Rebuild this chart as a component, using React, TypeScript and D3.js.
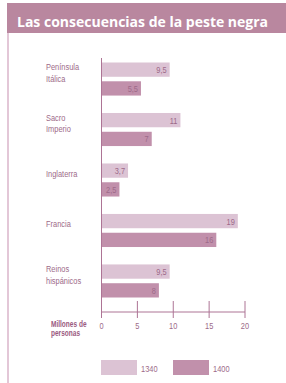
import React, { useEffect } from 'react';
import * as d3 from 'd3';

// categories, split into label lines
const regions = ['Península Itálica', 'Sacro Imperio', 'Inglaterra', 'Francia', 'Reinos hispánicos'];
const regionLines = [['Península', 'Itálica'], ['Sacro', 'Imperio'], ['Inglaterra'], ['Francia'], ['Reinos', 'hispánicos']];
const years = ['1340', '1400'];
const pop1340 = [9.5, 11, 3.7, 19, 9.5];
const pop1400 = [5.5, 7, 2.5, 16, 8];
const valueLabels1340 = ['9,5', '11', '3,7', '19', '9,5'];
const valueLabels1400 = ['5,5', '7', '2,5', '16', '8'];
const xTicks = [0, 5, 10, 15, 20];

const W = 286, H = 383;
const LIGHT = '#dcc3d4';
const DARK = '#c190ab';
const TEXT = '#9d6a89';
const AXIS = '#ad7495';
const FONT = "'Liberation Sans', Arial, sans-serif";

// condensed-looking text: squeeze horizontally, lines as tspans
function NText(props: { x: number; y: number; lines: string[]; lh?: number; anchor?: string; size?: number; weight?: number; fill?: string }) {
  const { x, y, lines, lh = 11.2, anchor = 'start', size = 9.8, weight = 400, fill = TEXT } = props;
  return (
    <text transform={`translate(${x},${y}) scale(0.76,1)`} textAnchor={anchor}
      fontFamily={FONT} fontSize={size} fontWeight={weight} fill={fill}>
      {lines.map((l, j) => (
        <tspan key={j} x={0} y={j * lh}>{l}</tspan>
      ))}
    </text>
  );
}

export default function App() {
  useEffect(() => {
    document.body.style.margin = '0';
  }, []);

  //SCALES
  const x = d3.scaleLinear().domain([0, 20]).range([101.5, 245]);
  const y = d3.scaleBand().domain(regions).range([62.5, 297.5]).paddingInner(0.345).paddingOuter(0);
  const ySub = d3.scaleBand().domain(years).range([0, y.bandwidth()]).paddingInner(0.24);
  const series = [pop1340, pop1400];
  const seriesLabels = [valueLabels1340, valueLabels1400];
  const colors = d3.scaleOrdinal<string, string>().domain(years).range([LIGHT, DARK]);

  const axisY = 312;

  return (
    <svg width={W} height={H} style={{ display: 'block' }}>
      {/* HEADER */}
      <rect x={7} y={3} width={W - 7} height={30} fill="#b9879f" />
      <text x={17} y={27} fill="#fff" fontFamily="'Open Sans', sans-serif" fontWeight={700} fontSize={14}>
        Las consecuencias de la peste negra
      </text>
      <line x1={8} x2={8} y1={33} y2={H} stroke="#dcb9cd" strokeWidth={1.6} />

      {/* CATEGORY LABELS */}
      {regions.map((r, i) => {
        const lines = regionLines[i];
        const center = (y(r) as number) + 10;
        const first = center - ((lines.length - 1) * 11.2) / 2 + 3.5;
        return <NText key={r} x={46} y={first} lines={lines} />;
      })}

      {/* BARS */}
      {regions.map((r, i) => (
        <g key={r} transform={`translate(0,${y(r)})`}>
          {years.map((yr, k) => {
            const v = series[k][i];
            const by = ySub(yr) as number;
            return (
              <g key={yr}>
                <rect x={x(0)} y={by} width={x(v) - x(0)} height={ySub.bandwidth()} fill={colors(yr)} />
                <NText x={x(v) - 3} y={by + ySub.bandwidth() / 2 + 3.5} anchor="end" lines={[seriesLabels[k][i]]} />
              </g>
            );
          })}
        </g>
      ))}

      {/* AXES */}
      <line x1={x(0)} x2={x(0)} y1={58} y2={axisY} stroke={AXIS} strokeWidth={1} />
      <line x1={x(0)} x2={x(20)} y1={axisY} y2={axisY} stroke={AXIS} strokeWidth={1} />
      {xTicks.map(t => (
        <g key={t}>
          <line x1={x(t)} x2={x(t)} y1={301} y2={318} stroke={AXIS} strokeWidth={1} />
          <NText x={x(t)} y={329} anchor="middle" lines={[String(t)]} />
        </g>
      ))}
      <NText x={51} y={326.5} lh={9.6} size={8.6} weight={700} fill="#9a5a80" lines={['Millones de', 'personas']} />

      {/* LEGEND */}
      {years.map((yr, k) => (
        <g key={yr} transform={`translate(${101 + k * 72},360)`}>
          <rect x={0} y={0} width={36} height={15} fill={colors(yr)} />
          <NText x={40} y={11.5} lines={[yr]} />
        </g>
      ))}
    </svg>
  );
}
